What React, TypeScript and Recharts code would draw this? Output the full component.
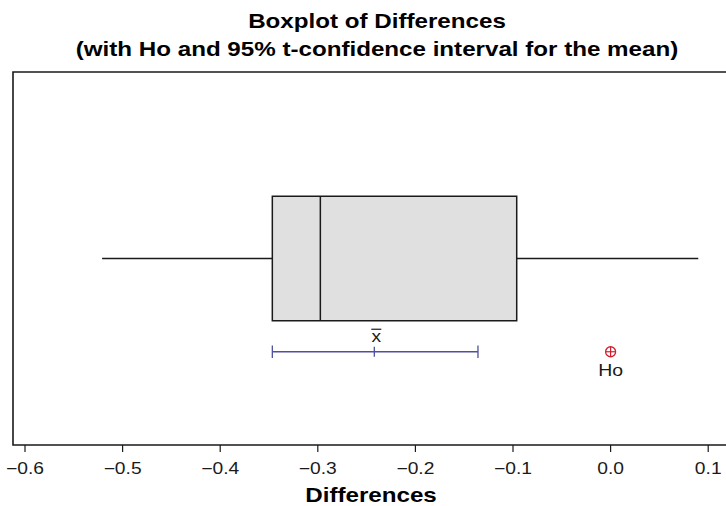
import {
  ComposedChart,
  ReferenceArea,
  ReferenceDot,
  ReferenceLine,
  XAxis,
  YAxis,
} from "recharts";

// values
const QUARTILES = [-0.3466, -0.2974, -0.0962]; // Q1, median, Q3
const WHISKERS = [-0.521, 0.0898]; // low, high
const MEAN_CI = [-0.3466, -0.2421, -0.1359]; // lower, mean, upper
const H0 = [0.0];
const X_TICKS = [-0.6, -0.5, -0.4, -0.3, -0.2, -0.1, 0.0, 0.1];

const X_DOMAIN = [-0.6123, 0.1377];

const FONT = "'Liberation Sans', Arial, Helvetica, sans-serif";
const CI_BLUE = "#4f4f9e";
const HO_RED = "#d0202e";
const INK = "#1a1a1a";

// rows of the frame (y domain is 0..1)
const BOX_LO = 1 / 3;
const BOX_HI = 2 / 3;
const MID = 0.5;
const CI_ROW = 0.25;

const fmt = (v: number) => {
  const s = Math.abs(v).toFixed(1);
  return v < -1e-9 ? `\u2212${s}` : s;
};

const Tick = (props: any) => {
  const { x, y, payload } = props;
  return (
    <g transform={`translate(${x},${y})`}>
      <text
        transform="scale(1.18,1)"
        textAnchor="middle"
        y={0}
        dy={20}
        fontSize={16.3}
        fontFamily={FONT}
        fill={INK}
      >
        {fmt(payload.value)}
      </text>
    </g>
  );
};

const MeanMark = (p: any) => (
  <g>
    <line x1={p.cx} x2={p.cx} y1={p.cy - 5} y2={p.cy + 5} stroke={CI_BLUE} strokeWidth={1.3} />
    {/* x-bar */}
    <line x1={p.cx - 3} x2={p.cx + 7} y1={p.cy - 22.5} y2={p.cy - 22.5} stroke={INK} strokeWidth={1.2} />
    <g transform={`translate(${p.cx + 2},${p.cy - 10})`}>
      <text transform="scale(1.2,1)" textAnchor="middle" fontSize={16} fontFamily={FONT} fill={INK}>
        x
      </text>
    </g>
  </g>
);

const HoMark = (p: any) => (
  <g>
    <circle cx={p.cx} cy={p.cy} r={5} fill="none" stroke={HO_RED} strokeWidth={1.3} />
    <line x1={p.cx - 5} x2={p.cx + 5} y1={p.cy} y2={p.cy} stroke={HO_RED} strokeWidth={1.2} />
    <line x1={p.cx} x2={p.cx} y1={p.cy - 5} y2={p.cy + 5} stroke={HO_RED} strokeWidth={1.2} />
    <g transform={`translate(${p.cx},${p.cy + 24.5})`}>
      <text transform="scale(1.18,1)" textAnchor="middle" fontSize={16.5} fontFamily={FONT} fill={INK}>
        Ho
      </text>
    </g>
  </g>
);

const titleStyle = (top: number, left = 377): React.CSSProperties => ({
  position: "absolute",
  top,
  left,
  transform: "translateX(-50%) scaleX(1.15)",
  whiteSpace: "nowrap",
  fontFamily: FONT,
  fontWeight: "bold",
  fontSize: 21,
  lineHeight: "28px",
  color: "#000",
});

export default function App() {
  const [q1, med, q3] = QUARTILES;
  const [wLo, wHi] = WHISKERS;
  const [ciLo, mean, ciHi] = MEAN_CI;
  return (
    <div
      style={{
        position: "fixed",
        top: 0,
        left: 0,
        width: 726,
        height: 506,
        overflow: "hidden",
        background: "#fff",
      }}
    >
      <div style={titleStyle(7)}>Boxplot of Differences</div>
      <div style={titleStyle(35)}>(with Ho and 95% t-confidence interval for the mean)</div>

      <ComposedChart
        width={760}
        height={506}
        data={[]}
        margin={{ top: 72, right: 15, left: 13, bottom: 0 }}
      >
        <XAxis
          type="number"
          dataKey="x"
          domain={X_DOMAIN}
          ticks={X_TICKS}
          allowDataOverflow
          interval={0}
          axisLine={false}
          tickSize={7}
          tickLine={{ stroke: INK, strokeWidth: 1.2 }}
          tick={<Tick />}
          height={61}
        />
        <YAxis type="number" domain={[0, 1]} hide allowDataOverflow />

        {/* frame */}
        <ReferenceArea
          x1={X_DOMAIN[0]}
          x2={X_DOMAIN[1]}
          y1={0}
          y2={1}
          fill="none"
          stroke={INK}
          strokeWidth={1.6}
          ifOverflow="visible"
        />

        {/* whiskers */}
        <ReferenceLine
          segment={[{ x: wLo, y: MID }, { x: q1, y: MID }]}
          stroke={INK}
          strokeWidth={1.5}
        />
        <ReferenceLine
          segment={[{ x: q3, y: MID }, { x: wHi, y: MID }]}
          stroke={INK}
          strokeWidth={1.5}
        />

        {/* box */}
        <ReferenceArea
          x1={q1}
          x2={q3}
          y1={BOX_LO}
          y2={BOX_HI}
          fill="#e0e0e0"
          fillOpacity={1}
          stroke={INK}
          strokeWidth={1.5}
        />
        <ReferenceLine
          segment={[{ x: med, y: BOX_LO }, { x: med, y: BOX_HI }]}
          stroke={INK}
          strokeWidth={1.5}
        />

        {/* 95% t-CI for the mean */}
        <ReferenceLine
          segment={[{ x: ciLo, y: CI_ROW }, { x: ciHi, y: CI_ROW }]}
          stroke={CI_BLUE}
          strokeWidth={1.3}
        />
        <ReferenceLine
          segment={[{ x: ciLo, y: CI_ROW - 0.017 }, { x: ciLo, y: CI_ROW + 0.017 }]}
          stroke={CI_BLUE}
          strokeWidth={1.3}
        />
        <ReferenceLine
          segment={[{ x: ciHi, y: CI_ROW - 0.017 }, { x: ciHi, y: CI_ROW + 0.017 }]}
          stroke={CI_BLUE}
          strokeWidth={1.3}
        />
        <ReferenceDot x={mean} y={CI_ROW} r={0} shape={MeanMark} />
        <ReferenceDot x={H0[0]} y={CI_ROW} r={5} shape={HoMark} />
      </ComposedChart>

      <div style={titleStyle(481, 371)}>Differences</div>
    </div>
  );
}
